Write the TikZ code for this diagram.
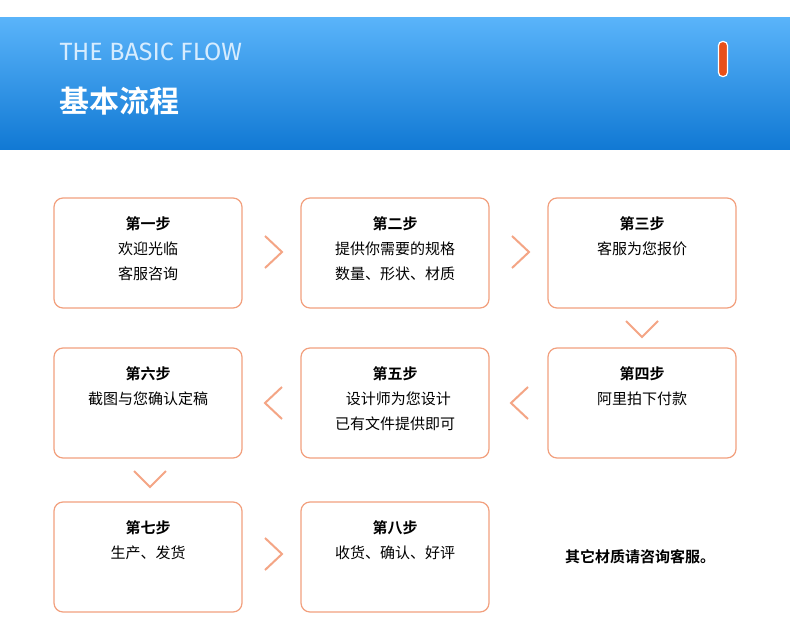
\documentclass[tikz,border=0pt]{standalone}
\usepackage{fontspec}
\setmainfont{Noto Sans CJK SC}
\newfontfamily\cjkb{Noto Sans CJK SC Bold}
\newfontfamily\latf{Fira Sans}
\definecolor{topblue}{HTML}{5AB4FA}
\definecolor{botblue}{HTML}{1179D4}
\definecolor{boxline}{HTML}{F2A07E}
\definecolor{chev}{HTML}{F4A585}
\definecolor{pill}{HTML}{E8501A}
\tikzset{
 stepbox/.style={draw=boxline,line width=1.2pt,rounded corners=9pt,minimum width=188pt,minimum height=110pt,fill=white},
 steptxt/.style={align=center,font=\fontsize{15}{25}\selectfont,text=black},
 chevron/.style={draw=chev,line width=2pt},
}
\newcommand{\stitle}[1]{{\cjkb #1}}
\begin{document}
\begin{tikzpicture}[x=1pt,y=-1pt]
\useasboundingbox (0,0) rectangle (790,640);
\fill[white] (0,0) rectangle (790,640);
\shade[top color=topblue,bottom color=botblue] (0,17) rectangle (790,149);
\node[anchor=west,font=\latf\fontsize{25}{25}\selectfont,text=white!75!topblue] (en) at (56,52) {THE BASIC FLOW};
\node[anchor=west,font=\cjkb\fontsize{30}{30}\selectfont,text=white] (zh) at (56,101) {基本流程};
\node[draw=white,line width=1.2pt,fill=pill,rounded corners=4pt,minimum width=9pt,minimum height=35pt,inner sep=0pt] (pl) at (723,59) {};
% boxes
\node[stepbox] (b1) at (148,253) {};
\node[stepbox] (b2) at (395,253) {};
\node[stepbox] (b3) at (642,253) {};
\node[stepbox] (b4) at (642,403) {};
\node[stepbox] (b5) at (395,403) {};
\node[stepbox] (b6) at (148,403) {};
\node[stepbox] (b7) at (148,557) {};
\node[stepbox] (b8) at (395,557) {};
% texts
\node[steptxt,anchor=north] (t1) at (148,213) {\stitle{第一步}\\欢迎光临\\客服咨询};
\node[steptxt,anchor=north] (t2) at (395,213) {\stitle{第二步}\\提供你需要的规格\\数量、形状、材质};
\node[steptxt,anchor=north] (t3) at (642,213) {\stitle{第三步}\\客服为您报价};
\node[steptxt,anchor=north] (t4) at (642,363) {\stitle{第四步}\\阿里拍下付款};
\node[steptxt,anchor=north] (t5) at (395,363) {\stitle{第五步}\\\ \ 设计师为您设计\\已有文件提供即可};
\node[steptxt,anchor=north] (t6) at (148,363) {\stitle{第六步}\\截图与您确认定稿};
\node[steptxt,anchor=north] (t7) at (148,517) {\stitle{第七步}\\生产、发货};
\node[steptxt,anchor=north] (t8) at (395,517) {\stitle{第八步}\\收货、确认、好评};
\node[font=\cjkb\fontsize{15}{15}\selectfont] (note) at (640,557) {其它材质请咨询客服。};
% chevrons
\draw[chevron] (265,236) -- (282,252) -- (265,268);
\draw[chevron] (512,236) -- (529,252) -- (512,268);
\draw[chevron] (626,321) -- (642,337) -- (658,321);
\draw[chevron] (528,387) -- (511,403) -- (528,419);
\draw[chevron] (282,387) -- (265,403) -- (282,419);
\draw[chevron] (134,471) -- (150,487) -- (166,471);
\draw[chevron] (265,538) -- (282,554) -- (265,570);
\end{tikzpicture}
\end{document}
